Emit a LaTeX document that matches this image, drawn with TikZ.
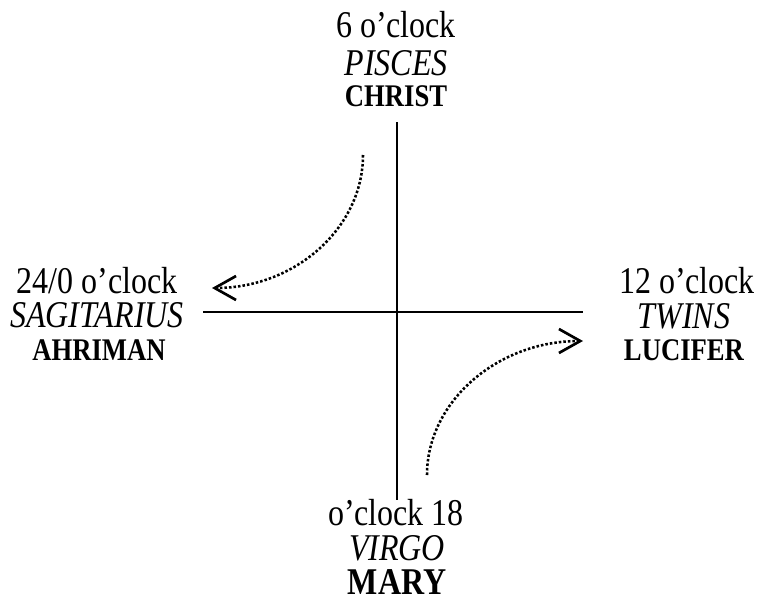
\documentclass[tikz,border=0pt]{standalone}
\usepackage{fontspec}
\setmainfont{Liberation Serif}
\usetikzlibrary{arrows.meta}
\newcommand{\tall}[1]{\scalebox{1}[1.18]{#1}}

\begin{document}
\begin{tikzpicture}[x=0.375pt, y=-0.375pt,
    hour/.style={font=\fontsize{12}{14}\selectfont, anchor=base, inner sep=0pt},
    sign/.style={font=\fontsize{12}{14}\selectfont\itshape, anchor=base, inner sep=0pt},
    being/.style={font=\fontsize{10}{12}\selectfont\bfseries, anchor=base, inner sep=0pt},
    axis/.style={draw=black, line width=0.8pt},
    flow/.style={line width=0.95pt, dash pattern=on 0.95pt off 0.75pt,
                 -{Straight Barb[length=8pt, width=9pt, line width=1pt]}}
  ]
  \useasboundingbox (0,0) rectangle (758,600);

  % cross
  \coordinate (ax-top)   at (397,122);
  \coordinate (ax-bot)   at (397,500);
  \coordinate (ax-left)  at (203,312);
  \coordinate (ax-right) at (583,312);
  \draw[axis] (ax-top)  -- (ax-bot);
  \draw[axis] (ax-left) -- (ax-right);

  % six
  \node[hour]  (six)    at (396,37)  {\tall{6 o'clock}};
  \node[sign]  (pisces) at (396,75)  {\tall{PISCES}};
  \node[being] (christ) at (396,106) {\tall{CHRIST}};

  % twentyfour
  \node[hour]  (zero)    at (97,293) {\tall{24/0 o'clock}};
  \node[sign]  (sagit)   at (97,327) {\tall{SAGITARIUS}};
  \node[being] (ahriman) at (99,360) {\tall{AHRIMAN}};

  % twelve
  \node[hour]  (twelve)  at (687,293) {\tall{12 o'clock}};
  \node[sign]  (twins)   at (684,328) {\tall{TWINS}};
  \node[being] (lucifer) at (684,360) {\tall{LUCIFER}};

  % eighteen
  \node[hour]  (eighteen) at (396,525) {\tall{o'clock 18}};
  \node[sign]  (virgo)    at (397,560) {\tall{VIRGO}};
  \node[being, font=\fontsize{12}{14}\selectfont\bfseries]
        (mary) at (397,594) {\tall{MARY}};

  % movements
  \coordinate (fall-from) at (363,155);
  \coordinate (fall-to)   at (212,288);
  \coordinate (rise-from) at (427,475);
  \coordinate (rise-to)   at (583,341);
  \draw[flow] (fall-from) .. controls (363,228) and (295,288) .. (fall-to);
  \draw[flow] (rise-from) .. controls (427,402) and (497,341) .. (rise-to);
\end{tikzpicture}
\end{document}
